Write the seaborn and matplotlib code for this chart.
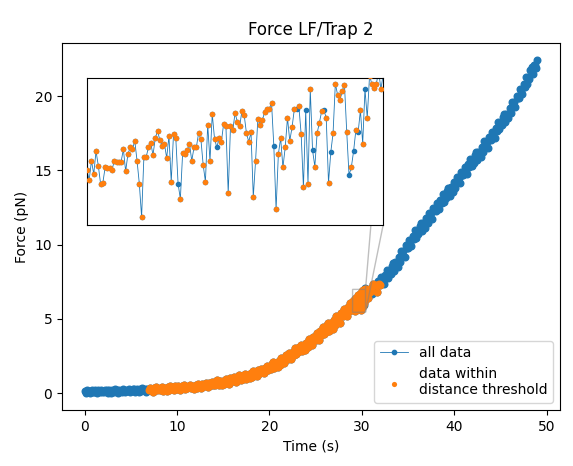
import numpy as np
import pandas as pd
import matplotlib
matplotlib.use("Agg")
import matplotlib.pyplot as plt
import seaborn as sns

# force trace, 8 readings per second from t = 0 s (one row per second)
step = 0.125
force_early = [
    0.16, 0.02, 0.21, 0.08, 0.14, -0.02, 0.18, 0.10,
    0.06, 0.21, 0.12, 0.00, 0.18, 0.07, 0.23, 0.04,
    0.14, 0.06, 0.19, 0.23, 0.02, 0.17, 0.11, 0.00,
    0.19, 0.05, 0.24, 0.11, 0.18, 0.02, 0.22, 0.14,
    0.10, 0.25, 0.16, 0.04, 0.23, 0.12, 0.28, 0.09,
    0.19, 0.11, 0.25, 0.29, 0.08, 0.24, 0.18, 0.08,
    0.26, 0.12, 0.32, 0.19, 0.25, 0.10, 0.30, 0.23,
    0.17, 0.35, 0.26, 0.10, 0.33, 0.20, 0.40, 0.17,
    0.29, 0.18, 0.36, 0.42, 0.16, 0.34, 0.27, 0.15,
    0.38, 0.20, 0.45, 0.29, 0.37, 0.18, 0.45, 0.34,
    0.29, 0.48, 0.38, 0.23, 0.46, 0.33, 0.54, 0.30,
    0.43, 0.33, 0.50, 0.56, 0.31, 0.50, 0.42, 0.30,
    0.54, 0.36, 0.62, 0.46, 0.55, 0.36, 0.63, 0.53,
    0.48, 0.67, 0.58, 0.43, 0.67, 0.55, 0.76, 0.53,
    0.67, 0.54, 0.78, 0.85, 0.53, 0.78, 0.69, 0.53,
    0.84, 0.62, 0.95, 0.75, 0.86, 0.62, 0.98, 0.85,
    0.79, 1.05, 0.93, 0.75, 1.07, 0.91, 1.19, 0.89,
    1.07, 0.95, 1.20, 1.28, 0.97, 1.23, 1.15, 1.00,
    1.32, 1.11, 1.46, 1.27, 1.40, 1.16, 1.53, 1.42,
    1.37, 1.64, 1.54, 1.37, 1.71, 1.56, 1.85, 1.57,
    1.78, 1.62, 1.97, 2.09, 1.66, 2.04, 1.94, 1.73,
    2.19, 1.90, 2.39, 2.13, 2.32, 2.00, 2.53, 2.37,
    2.31, 2.69, 2.55, 2.32, 2.79, 2.59, 3.00, 2.60,
    2.88, 2.73, 3.10, 3.23, 2.82, 3.20, 3.11, 2.92,
    3.39, 3.11, 3.62, 3.37, 3.57, 3.26, 3.80, 3.66,
    3.58, 4.06, 3.89, 3.59, 4.18, 3.92, 4.45, 3.95,
    4.29, 4.11, 4.56, 4.74, 4.21, 4.69, 4.58, 4.33,
    4.93, 4.57, 5.21, 4.89, 5.14, 4.74, 5.41, 5.23,
    5.16, 5.65, 5.48, 5.19, 5.79, 5.53, 6.06, 5.57,
]

# full-rate samples inside the zoomed window
zoom_xlim = (29.0, 30.4)
zoom_ylim = (5.44, 6.98)
force_zoom = [
    6.01, 5.91, 6.11, 5.97, 6.21, 6.06, 5.87, 5.88, 6.04, 6.03,
    6.03, 6.01, 6.11, 6.10, 6.10, 6.10, 6.23, 6.00, 6.18, 6.25,
    6.23, 6.32, 6.11, 5.87, 5.52, 6.15, 6.15, 6.25, 6.30, 6.17,
    6.35, 6.42, 6.33, 6.27, 6.29, 6.14, 6.37, 5.89, 6.39, 6.35,
    5.87, 5.71, 6.19, 6.18, 6.22, 6.29, 6.11, 6.25, 6.25, 6.40,
    6.34, 6.07, 5.89, 6.49, 6.11, 6.60, 6.34, 6.25, 6.35, 6.31,
    6.50, 6.47, 5.77, 6.47, 6.43, 6.61, 6.52, 6.47, 6.63, 6.59,
    6.40, 6.31, 6.41, 5.73, 6.11, 6.55, 6.49, 6.54, 6.62, 6.65,
    6.65, 6.72, 6.27, 5.60, 6.18, 6.35, 6.04, 6.25, 6.56, 6.32,
    6.46, 6.65, 6.65, 6.68, 6.39, 5.83, 6.64, 5.87, 6.86, 6.22,
    6.05, 6.40, 6.51, 6.63, 6.64, 6.56, 5.88, 6.20, 6.40, 6.92,
    6.80, 6.75, 6.84, 6.91, 6.41, 5.96, 6.04, 6.21, 6.43, 6.41,
    6.64, 6.29, 6.86, 6.56, 7.00, 6.92, 6.87, 6.92, 7.05, 6.86,
    7.02,
]
zoom_outside = [40, 57, 82, 92, 96, 99, 104, 107, 115, 117, 119, 122, 128]

# rest of the trace from t = 30.5 s, 8 readings per second
late_start = 30.5
force_late = [
    6.97, 6.40, 6.92, 6.79,
    7.09, 6.69, 7.37, 7.01, 7.26, 6.83, 7.55, 7.34,
    7.25, 7.79, 7.62, 7.32, 7.98, 7.73, 8.31, 7.78,
    8.18, 8.02, 8.56, 8.78, 8.25, 8.81, 8.74, 8.51,
    9.19, 8.84, 9.57, 9.26, 9.56, 9.18, 9.95, 9.79,
    9.75, 10.31, 10.17, 9.90, 10.58, 10.35, 10.96, 10.46,
    10.88, 10.71, 11.23, 11.44, 10.90, 11.45, 11.36, 11.12,
    11.79, 11.43, 12.14, 11.82, 12.11, 11.72, 12.47, 12.30,
    12.25, 12.80, 12.64, 12.36, 13.03, 12.79, 13.38, 12.87,
    13.28, 13.11, 13.63, 13.84, 13.30, 13.85, 13.76, 13.52,
    14.19, 13.83, 14.54, 14.22, 14.51, 14.12, 14.87, 14.70,
    14.65, 15.20, 15.04, 14.76, 15.43, 15.19, 15.78, 15.27,
    15.68, 15.51, 16.03, 16.24, 15.70, 16.25, 16.16, 15.92,
    16.59, 16.23, 16.94, 16.62, 16.91, 16.52, 17.27, 17.10,
    17.05, 17.61, 17.47, 17.20, 17.88, 17.65, 18.26, 17.76,
    18.18, 18.02, 18.56, 18.78, 18.25, 18.81, 18.74, 18.51,
    19.19, 18.86, 19.59, 19.30, 19.61, 19.25, 20.02, 19.88,
    19.85, 20.45, 20.34, 20.11, 20.83, 20.64, 21.28, 20.82,
    21.28, 21.16, 21.73, 21.99, 21.50, 22.10, 22.06, 21.87,
    22.45,
]
late_outside = [0, 2, 5, 7, 10]

# time span where the bead distance stayed within threshold
threshold_from = 7.0
threshold_to = 32.0


def build_frame():
    t_early = np.arange(len(force_early)) * step
    t_zoom = np.linspace(zoom_xlim[0], zoom_xlim[1], len(force_zoom))
    t_late = late_start + np.arange(len(force_late)) * step

    df = pd.DataFrame({
        'time': np.concatenate([t_early, t_zoom, t_late]),
        'force': force_early + force_zoom + force_late,
    })
    df['inside'] = (df['time'] >= threshold_from) & (df['time'] <= threshold_to)

    n0 = len(force_early)
    n1 = n0 + len(force_zoom)
    outside = [n0 + i for i in zoom_outside] + [n1 + i for i in late_outside]
    df.loc[outside, 'inside'] = False
    return df


def draw(ax, df, ms, labels=True):
    sns.lineplot(data=df, x='time', y='force', ax=ax, color='C0', linewidth=0.6,
                 marker='.', markersize=ms, markeredgecolor='C0', markeredgewidth=1,
                 estimator=None, sort=False, legend=False, zorder=2,
                 label='all data' if labels else None)
    # orange dots go on top of the blue trace; area matched to the '.' marker
    dot = (ms / 2 + 1) ** 2
    sns.scatterplot(data=df[df['inside']], x='time', y='force', ax=ax, color='C1',
                    s=dot, linewidth=0, legend=False, zorder=3,
                    label='data within\ndistance threshold' if labels else None)


def main():
    df = build_frame()

    fig = plt.figure(figsize=(5.73, 4.66), dpi=100)
    ax = fig.add_axes([62 / 573, 1 - 410 / 466, 498 / 573, 367 / 466])
    draw(ax, df, ms=9.5)
    ax.set_title('Force LF/Trap 2')
    ax.set_xlabel('Time (s)')
    ax.set_ylabel('Force (pN)')
    ax.legend(loc='lower right', markerscale=0.65)

    axins = ax.inset_axes([0.05, 0.505, 0.595, 0.4])
    draw(axins, df, ms=6, labels=False)
    axins.set_xlim(*zoom_xlim)
    axins.set_ylim(*zoom_ylim)
    axins.set_xticks([])
    axins.set_yticks([])
    axins.set_xlabel('')
    axins.set_ylabel('')
    ax.indicate_inset_zoom(axins)

    fig.savefig('out.png', dpi=100)


if __name__ == "__main__":
    main()
